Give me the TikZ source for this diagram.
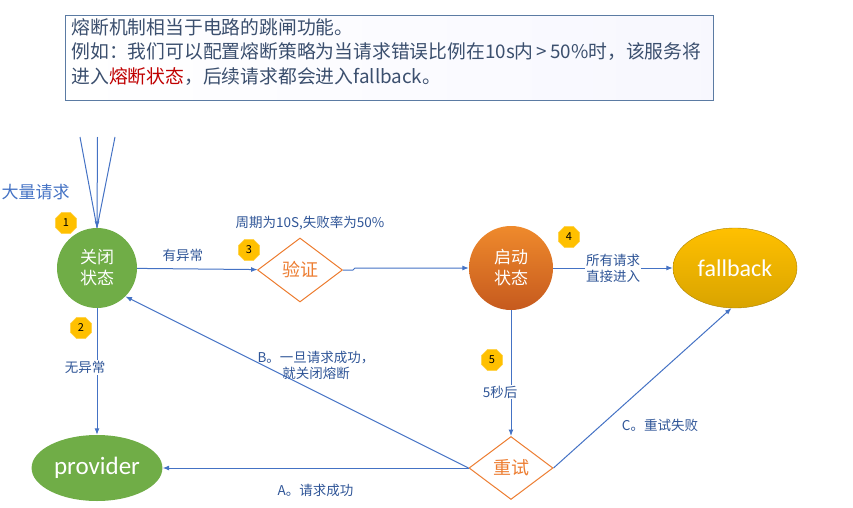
\documentclass[tikz,border=0pt]{standalone}
\usepackage{fontspec}
\setmainfont{Noto Sans CJK SC}
\newfontfamily\calfont{Carlito}
\usetikzlibrary{shapes.geometric,arrows.meta,positioning}
\definecolor{linkblue}{HTML}{4472C4}
\definecolor{labelblue}{HTML}{2F5597}
\definecolor{notetext}{HTML}{3B4F6E}
\definecolor{noteframe}{HTML}{5B7BA3}
\definecolor{leafgreen}{HTML}{70AD47}
\definecolor{rustorange}{HTML}{ED7D31}
\definecolor{darkorange}{HTML}{C65A1E}
\definecolor{goldtop}{HTML}{FFC000}
\definecolor{goldbottom}{HTML}{D9A400}
\definecolor{alarmred}{HTML}{C00000}
\begin{document}
\begin{tikzpicture}[
		x=1pt, y=-1pt,
		every node/.style={font=\fontsize{13.5}{16}\selectfont, text=labelblue},
		link/.style={draw=linkblue, line width=1pt, -{Latex[length=6.5pt,width=5pt]}},
		state/.style={circle, minimum size=80pt, inner sep=0pt, align=center,
			text=white, font=\fontsize{17}{21}\selectfont},
		check/.style={diamond, draw=rustorange, line width=1pt, fill=white, inner sep=0pt,
			minimum width=85pt, minimum height=64pt, text=rustorange, font=\fontsize{18}{20}\selectfont},
		badge/.style={regular polygon, regular polygon sides=8, fill=goldtop, draw=goldtop!70!white,
			minimum size=23pt, inner sep=0pt, text=black, font=\fontsize{11}{12}\selectfont},
		tag/.style={fill=white, inner sep=1pt, align=center}
		]
		\useasboundingbox (0,0) rectangle (853,508);
		
		% note box
		\node (note) [draw=noteframe, line width=0.8pt, left color=white, right color=black!8!blue!3,
			minimum width=648pt, minimum height=85pt, anchor=north west] at (65,15) {};
		\node (notetxt) [anchor=west, align=left, text=notetext, font=\fontsize{18.8}{24.5}\selectfont]
			at (68,52) {熔断机制相当于电路的跳闸功能。\\
			例如：我们可以配置熔断策略为当请求错误比例在10s内\,>\,50\%时，该服务将\\
			进入\textcolor{alarmred}{熔断状态}，后续请求都会进入fallback。};
		
		% states
		\node (closed) [state, fill=leafgreen] at (97,268) {关闭\\状态};
		\node (verify) [check] at (300,270) {验证};
		\node (open) [state, top color=rustorange!90!yellow, bottom color=darkorange, minimum size=84pt]
			at (511,268) {启动\\状态};
		\node (fallback) [ellipse, top color=goldtop, bottom color=goldbottom, draw=goldbottom!80!black,
			minimum width=124pt, minimum height=80pt, text=white, font=\calfont\fontsize{24}{26}\selectfont]
			at (735,268) {fallback};
		\node (provider) [ellipse, fill=leafgreen, minimum width=120pt, minimum height=66pt,
			text=white, font=\calfont\fontsize{25}{26}\selectfont] at (97,468) {provider};
		\node (retry) [check, minimum width=84pt, minimum height=63pt] at (511,468) {重试};
		
		% incoming requests
		\coordinate (in1) at (80,137);
		\coordinate (in2) at (97.5,137);
		\coordinate (in3) at (115,137);
		\draw[linkblue, line width=1pt] (in1) -- (closed.north) (in3) -- (closed.north);
		\draw[link] (in2) -- (closed.north);
		\node (crowd) [anchor=west, text=linkblue, font=\fontsize{17}{20}\selectfont] at (-2,192) {大量请求};
		
		% connectors
		\draw[link] (closed) -- node[above=3pt, pos=0.38] {有异常} (verify);
		\coordinate (jog) at (355,268);
		\draw[link] (verify.east) -- (353,270) -- (jog) -- (jog -| open.west);
		\draw[link] (open) -- node[tag] {所有请求\\直接进入} (fallback);
		\draw[link] (closed) -- node[tag, pos=0.47, xshift=-12pt] {无异常} (provider);
		\draw[link] (open) -- node[tag, pos=0.65, xshift=-11pt] {5秒后} (retry);
		\draw[link] (retry.west) -- node[below=12pt] {A。请求成功} (provider);
		\draw[link] (retry.west) -- (closed.-45);
		\draw[link] (retry.east) -- (fallback.-95);
		\node (lblB) [align=center] at (316,365) {B。一旦请求成功，\\就关闭熔断};
		\node (lblC) at (660,425) {C。重试失败};
		\node (lblcycle) at (310,223) {周期为10S,失败率为50\%};
		
		% step badges
		\node (b1) [badge] at (66,223) {1};
		\node (b2) [badge] at (81,328) {2};
		\node (b3) [badge] at (249,250) {3};
		\node (b4) [badge] at (569,237) {4};
		\node (b5) [badge] at (492,360) {5};
		
	\end{tikzpicture}
\end{document}
